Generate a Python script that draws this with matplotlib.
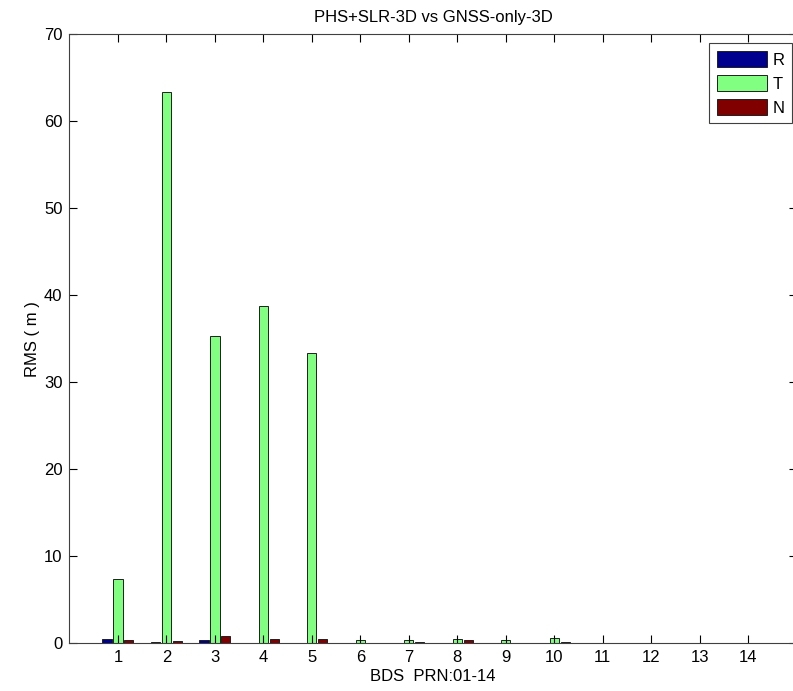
import numpy as np
import matplotlib
matplotlib.use("Agg")
import matplotlib.pyplot as plt

plt.rcParams['font.family'] = ['Liberation Sans', 'DejaVu Sans']

prn = np.arange(1, 15)
rms_r = [0.45, 0.10, 0.30, 0.05, 0.05, 0.05, 0.05, 0.05, 0.05, 0.05, 0.05, 0.05, 0.0, 0.05]
rms_t = [7.4, 63.3, 35.3, 38.7, 33.3, 0.30, 0.30, 0.50, 0.30, 0.62, 0.05, 0.05, 0.0, 0.05]
rms_n = [0.35, 0.25, 0.75, 0.45, 0.50, 0.05, 0.15, 0.30, 0.05, 0.15, 0.05, 0.05, 0.0, 0.05]
series_labels = ['R', 'T', 'N']
colors = ['#00008f', '#80ff80', '#800000']

fig = plt.figure(figsize=(7.93, 6.91), dpi=100)
ax = fig.add_axes([0.0876, 0.0695, 0.917, 0.881])

width = 0.19
offset = 0.225
for i, (vals, lab, col) in enumerate(zip([rms_r, rms_t, rms_n], series_labels, colors)):
    ax.bar(prn + (i - 1) * offset, vals, width=width, color=col,
           edgecolor='#202020', linewidth=0.7, label=lab)

ax.set_xlim(0, 15)
ax.set_ylim(0, 70)
ax.set_xticks(prn)
ax.set_yticks(np.arange(0, 71, 10))
ax.tick_params(direction='in', top=True, right=True, length=6, labelsize=12,
               width=0.8, pad=5)
for s in ax.spines.values():
    s.set_color('#404040')
    s.set_linewidth(0.8)

ax.set_title('PHS+SLR-3D vs GNSS-only-3D', fontsize=12, pad=9)
ax.set_xlabel('BDS  PRN:01-14', fontsize=12, labelpad=3)
ax.set_ylabel('RMS ( m )', fontsize=12, labelpad=3)

leg = ax.legend(loc='upper right', bbox_to_anchor=(0.9935, 0.985), borderaxespad=0,
                fancybox=False, edgecolor='#404040', fontsize=12, handlelength=3.0,
                handleheight=1.1, borderpad=0.45, labelspacing=0.45, handletextpad=0.35,
                framealpha=1)
leg.get_frame().set_linewidth(0.8)

fig.savefig('out.png', dpi=100)
